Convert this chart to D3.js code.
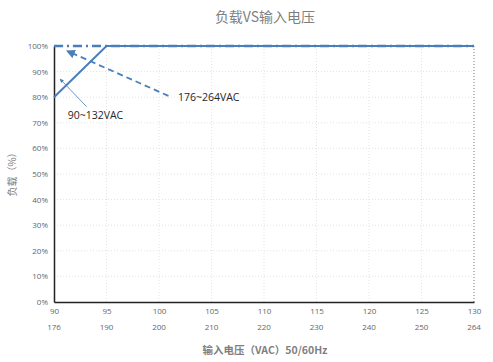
<!DOCTYPE html>
<html>
<head>
<meta charset="utf-8">
<script src="https://cdn.jsdelivr.net/npm/d3@7"></script>
<style>
  body { margin: 0; background: #fff; }
  text { font-family: "Noto Sans CJK SC", "Open Sans", sans-serif; }
</style>
</head>
<body>
<script>
var voltLow = [90, 95, 100, 105, 110, 115, 120, 125, 130];
var voltHigh = [176, 190, 200, 210, 220, 230, 240, 250, 264];
var loadLow = [80, 100, 100, 100, 100, 100, 100, 100, 100];   // 90~132VAC
var loadHigh = [100, 100, 100, 100, 100, 100, 100, 100, 100]; // 176~264VAC
var yTicks = [0, 10, 20, 30, 40, 50, 60, 70, 80, 90, 100];

var W = 493, H = 362;
var m = { left: 54, right: 19, top: 46, bottom: 60 };

var svg = d3.select('body').append('svg')
  .attr('width', W).attr('height', H);

var x = d3.scaleLinear().domain([90, 130]).range([m.left, W - m.right]);
var y = d3.scaleLinear().domain([0, 100]).range([H - m.bottom, m.top]);

var blue = '#4a7ebb';

// grid
svg.append('g').selectAll('line').data(yTicks.slice(1)).enter().append('line')
  .attr('x1', m.left).attr('x2', W - m.right)
  .attr('y1', function(d) { return y(d); }).attr('y2', function(d) { return y(d); })
  .attr('stroke', '#e3e3e3').attr('stroke-dasharray', '1,2');
svg.append('g').selectAll('line').data(voltLow.slice(1)).enter().append('line')
  .attr('x1', function(d) { return x(d); }).attr('x2', function(d) { return x(d); })
  .attr('y1', y(0)).attr('y2', y(100))
  .attr('stroke', function(d) { return d == 130 ? '#777' : '#e3e3e3'; })
  .attr('stroke-dasharray', '1,2');

// axes
var yAxis = svg.append('g').attr('transform', 'translate(' + m.left + ',0)')
  .call(d3.axisLeft(y).tickValues(yTicks).tickSize(0).tickPadding(6)
    .tickFormat(function(d) { return d + '%'; }));
yAxis.select('.domain').attr('stroke', '#222').attr('stroke-width', 1.5);
yAxis.selectAll('text').attr('fill', '#666').style('font-size', '8px')
  .style('font-family', '"Open Sans", sans-serif');

var xAxis = svg.append('g').attr('transform', 'translate(0,' + y(0) + ')')
  .call(d3.axisBottom(x).tickValues(voltLow).tickSize(0).tickPadding(6));
xAxis.select('.domain').attr('stroke', '#222').attr('stroke-width', 1.5);
xAxis.selectAll('text').attr('fill', '#666').style('font-size', '8px')
  .style('font-family', '"Open Sans", sans-serif');

svg.append('g').selectAll('text').data(voltHigh).enter().append('text')
  .attr('x', function(d, i) { return x(voltLow[i]); })
  .attr('y', y(0) + 28)
  .attr('text-anchor', 'middle')
  .attr('fill', '#666').style('font-size', '8px')
  .style('font-family', '"Open Sans", sans-serif')
  .text(function(d) { return d; });

// series
var line = d3.line()
  .x(function(d, i) { return x(voltLow[i]); })
  .y(function(d) { return y(d); });

svg.append('path').datum(loadHigh).attr('d', line)
  .attr('fill', 'none').attr('stroke', blue).attr('stroke-width', 2.5)
  .attr('stroke-dasharray', '9,4,2,4');
svg.append('path').datum(loadLow).attr('d', line)
  .attr('fill', 'none').attr('stroke', blue).attr('stroke-width', 2);

// arrows
svg.append('defs').append('marker')
  .attr('id', 'ah').attr('viewBox', '0 0 10 10').attr('refX', 8).attr('refY', 5)
  .attr('markerWidth', 5).attr('markerHeight', 5).attr('orient', 'auto')
  .append('path').attr('d', 'M0,0 L10,5 L0,10 z').attr('fill', blue);

svg.append('line')
  .attr('x1', x(100.9)).attr('y1', y(80.5)).attr('x2', x(91.3)).attr('y2', y(98))
  .attr('stroke', blue).attr('stroke-width', 1.8).attr('stroke-dasharray', '6,4')
  .attr('marker-end', 'url(#ah)');
svg.append('line')
  .attr('x1', x(93.1)).attr('y1', y(76.3)).attr('x2', x(90.6)).attr('y2', y(87))
  .attr('stroke', blue).attr('stroke-width', 0.8)
  .attr('marker-end', 'url(#ah)');

svg.append('text').attr('x', x(91.3)).attr('y', y(71.5))
  .attr('fill', '#262626').style('font-size', '10.5px')
  .style('font-family', '"Open Sans", sans-serif').text('90~132VAC');
svg.append('text').attr('x', x(101.8)).attr('y', y(78.5))
  .attr('fill', '#262626').style('font-size', '10.5px')
  .style('font-family', '"Open Sans", sans-serif').text('176~264VAC');

// titles
svg.append('text').attr('x', 265).attr('y', 22).attr('text-anchor', 'middle')
  .attr('fill', '#7f7f7f').style('font-size', '14px').text('负载VS输入电压');
svg.append('text').attr('transform', 'translate(16,' + 172 + ') rotate(-90)')
  .attr('text-anchor', 'middle').attr('fill', '#7f7f7f').style('font-size', '10px')
  .text('负载（%）');
svg.append('text').attr('x', 265).attr('y', 354).attr('text-anchor', 'middle')
  .attr('fill', '#7f7f7f').style('font-size', '10.5px').style('font-weight', 'bold')
  .text('输入电压（VAC）50/60Hz');
</script>
</body>
</html>
